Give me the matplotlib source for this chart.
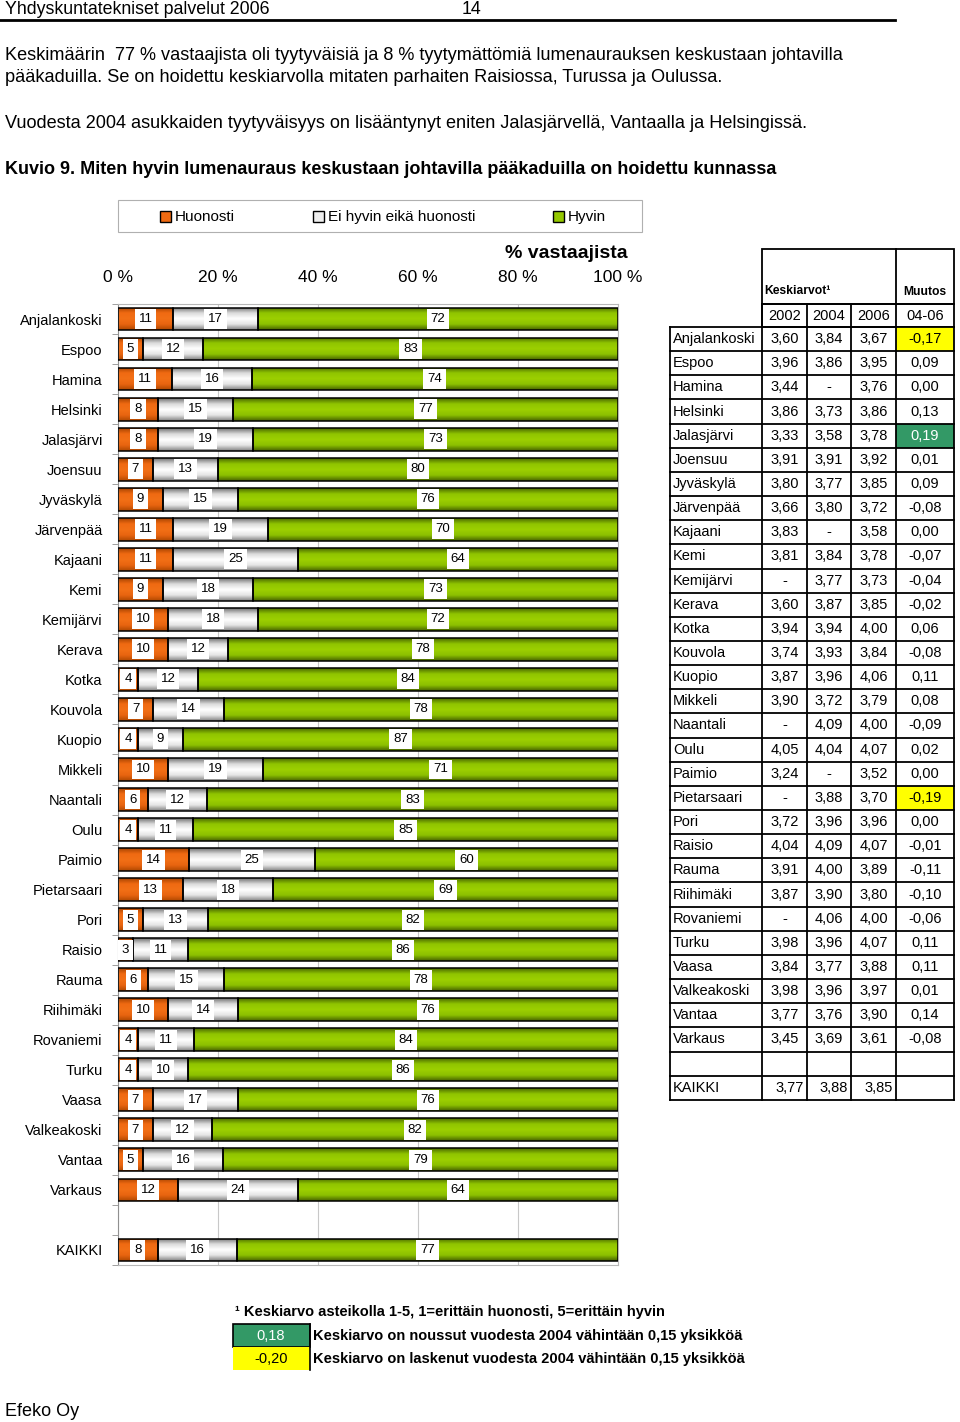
import numpy as np
import matplotlib
matplotlib.use("Agg")
from matplotlib import pyplot as plt
from matplotlib.colors import LinearSegmentedColormap
from matplotlib.patches import Rectangle

plt.rcParams['font.family'] = ['Liberation Sans', 'DejaVu Sans']
NARROW = ['Liberation Sans Narrow', 'Liberation Sans', 'DejaVu Sans']

# --- data ---
cities = ["Anjalankoski", "Espoo", "Hamina", "Helsinki", "Jalasjärvi", "Joensuu",
          "Jyväskylä", "Järvenpää", "Kajaani", "Kemi", "Kemijärvi", "Kerava", "Kotka",
          "Kouvola", "Kuopio", "Mikkeli", "Naantali", "Oulu", "Paimio", "Pietarsaari",
          "Pori", "Raisio", "Rauma", "Riihimäki", "Rovaniemi", "Turku", "Vaasa",
          "Valkeakoski", "Vantaa", "Varkaus"]
huonosti = [11, 5, 11, 8, 8, 7, 9, 11, 11, 9, 10, 10, 4, 7, 4, 10, 6, 4, 14, 13,
            5, 3, 6, 10, 4, 4, 7, 7, 5, 12]
ei_hyvin = [17, 12, 16, 15, 19, 13, 15, 19, 25, 18, 18, 12, 12, 14, 9, 19, 12, 11, 25, 18,
            13, 11, 15, 14, 11, 10, 17, 12, 16, 24]
hyvin = [72, 83, 74, 77, 73, 80, 76, 70, 64, 73, 72, 78, 84, 78, 87, 71, 83, 85, 60, 69,
         82, 86, 78, 76, 84, 86, 76, 82, 79, 64]
kaikki = [8, 16, 77]

k2002 = [3.60, 3.96, 3.44, 3.86, 3.33, 3.91, 3.80, 3.66, 3.83, 3.81, None, 3.60, 3.94,
         3.74, 3.87, 3.90, None, 4.05, 3.24, None, 3.72, 4.04, 3.91, 3.87, None, 3.98,
         3.84, 3.98, 3.77, 3.45]
k2004 = [3.84, 3.86, None, 3.73, 3.58, 3.91, 3.77, 3.80, None, 3.84, 3.77, 3.87, 3.94,
         3.93, 3.96, 3.72, 4.09, 4.04, None, 3.88, 3.96, 4.09, 4.00, 3.90, 4.06, 3.96,
         3.77, 3.96, 3.76, 3.69]
k2006 = [3.67, 3.95, 3.76, 3.86, 3.78, 3.92, 3.85, 3.72, 3.58, 3.78, 3.73, 3.85, 4.00,
         3.84, 4.06, 3.79, 4.00, 4.07, 3.52, 3.70, 3.96, 4.07, 3.89, 3.80, 4.00, 4.07,
         3.88, 3.97, 3.90, 3.61]
muutos = [-0.17, 0.09, 0.00, 0.13, 0.19, 0.01, 0.09, -0.08, 0.00, -0.07, -0.04, -0.02,
          0.06, -0.08, 0.11, 0.08, -0.09, 0.02, 0.00, -0.19, 0.00, -0.01, -0.11, -0.10,
          -0.06, 0.11, 0.11, 0.01, 0.14, -0.08]
kaikki_k = [3.77, 3.88, 3.85]
years = ["2002", "2004", "2006", "04-06"]
xticklabels = ["0 %", "20 %", "40 %", "60 %", "80 %", "100 %"]
legend_labels = ["Huonosti", "Ei hyvin eikä huonosti", "Hyvin"]

ORANGE, WHITE, GREEN = '#f06a12', '#eeeeee', '#94c800'
YEL, SEA = '#ffff00', '#339966'


def fmt(v):
    return '-' if v is None else f"{v:.2f}".replace('.', ',')


W, H = 960, 1422
fig = plt.figure(figsize=(W / 100, H / 100), dpi=100)
ax0 = fig.add_axes([0, 0, 1, 1])
ax0.set_xlim(0, W)
ax0.set_ylim(H, 0)
ax0.axis('off')

# header and text
ax0.text(5, 10, "Yhdyskuntatekniset palvelut 2006", family=NARROW, fontsize=12.8, va='center')
ax0.text(462, 10, "14", family=NARROW, fontsize=12.8, va='center')
ax0.plot([0, 895], [20, 20], color='black', lw=2)
ax0.text(5, 55, "Keskimäärin  77 % vastaajista oli tyytyväisiä ja 8 % tyytymättömiä lumenaurauksen keskustaan johtavilla",
         family=NARROW, fontsize=13.1, va='center')
ax0.text(5, 77, "pääkaduilla. Se on hoidettu keskiarvolla mitaten parhaiten Raisiossa, Turussa ja Oulussa.",
         family=NARROW, fontsize=13.1, va='center')
ax0.text(5, 124, "Vuodesta 2004 asukkaiden tyytyväisyys on lisääntynyt eniten Jalasjärvellä, Vantaalla ja Helsingissä.",
         family=NARROW, fontsize=13.1, va='center')
ax0.text(5, 169, "Kuvio 9. Miten hyvin lumenauraus keskustaan johtavilla pääkaduilla on hoidettu kunnassa",
         family=NARROW, fontsize=13, va='center', fontweight='bold')

# legend
ax0.add_patch(Rectangle((118, 200), 524, 32, fill=False, edgecolor='#b0b0b0', lw=0.8))
for xs, lab, col in zip([160, 313, 553], legend_labels, [ORANGE, WHITE, GREEN]):
    ax0.add_patch(Rectangle((xs, 211), 11, 11, facecolor=col, edgecolor='black', lw=1))
    ax0.text(xs + 15, 217, lab, family=NARROW, fontsize=11, va='center')

ax0.text(628, 254, "% vastaajista", fontsize=14, fontweight='bold', ha='right', va='center')

# --- bar chart ---
ax = fig.add_axes([118 / W, 1 - 1265 / H, 500 / W, (1265 - 304) / H])
rows = list(range(len(cities))) + [len(cities) + 1]
data = np.array([list(t) for t in zip(huonosti, ei_hyvin, hyvin)] + [kaikki], dtype=float)
pct = data / data.sum(axis=1, keepdims=True) * 100
lefts = np.cumsum(pct, axis=1) - pct

cmaps = [
    LinearSegmentedColormap.from_list('o', ['#a84400', '#f06a12', '#f27016', '#e86410', '#b04800']),
    LinearSegmentedColormap.from_list('w', ['#707070', '#dadada', '#ffffff', '#e4e4e4', '#808080']),
    LinearSegmentedColormap.from_list('g', ['#4a6800', '#90c400', '#9ccf00', '#8cc000', '#466200']),
]
grad = np.linspace(0, 1, 64).reshape(-1, 1)
bh = 0.76
for j in range(3):
    bars = ax.barh(rows, pct[:, j], left=lefts[:, j], height=bh, facecolor='none',
                   edgecolor='black', lw=1.1, zorder=3)
    for rect in bars:
        x0, y0 = rect.get_x(), rect.get_y()
        im = ax.imshow(grad, cmap=cmaps[j], extent=[x0, x0 + rect.get_width(), y0 + bh, y0],
                       aspect='auto', zorder=2, interpolation='bilinear')
        im.set_clip_path(rect)
    for r, v, l, w in zip(rows, data[:, j], lefts[:, j], pct[:, j]):
        ax.text(l + w / 2, r, f"{int(v)}", ha='center', va='center', fontsize=9.5, zorder=4,
                bbox=dict(boxstyle='square,pad=0.3', facecolor='white', edgecolor='none'))

ax.set_xlim(0, 100)
ax.set_ylim(len(cities) + 1.5, -0.5)
ax.set_aspect('auto')
ax.xaxis.tick_top()
ax.set_xticks(np.arange(0, 101, 20))
ax.set_xticklabels(xticklabels, fontsize=12.5)
ax.tick_params(axis='x', length=0, pad=14)
ax.set_yticks(rows)
ax.set_yticklabels(cities + ["KAIKKI"], fontsize=10.5)
ax.tick_params(axis='y', length=0, pad=11)
ax.set_yticks(np.arange(-0.5, len(cities) + 2, 1), minor=True)
ax.tick_params(axis='y', which='minor', length=4, color='#909090')
ax.grid(axis='x', color='#c8c8c8', lw=0.8, zorder=0)
ax.set_axisbelow(True)
for s in ['top', 'right', 'bottom']:
    ax.spines[s].set_color('#b8b8b8')
ax.spines['left'].set_color('#909090')

# --- table ---
cx = [670, 762, 807, 851, 896, 954]
rh = 24.15
ty0 = 327
lw = 1.3
# header boxes
ax0.add_patch(Rectangle((cx[1], 249), cx[5] - cx[1], 304 - 249, fill=False, edgecolor='black', lw=lw))
ax0.plot([cx[4], cx[4]], [249, 304], color='black', lw=lw)
ax0.text(cx[1] + 2, 291, "Keskiarvot¹", family=NARROW, fontsize=8.7, fontweight='bold', va='center')
ax0.text((cx[4] + cx[5]) / 2, 292, "Muutos", family=NARROW, fontsize=8.7, fontweight='bold',
         va='center', ha='center')
ax0.add_patch(Rectangle((cx[1], 304), cx[5] - cx[1], ty0 - 304, fill=False, edgecolor='black', lw=lw))
for i, yl in enumerate(years):
    ax0.plot([cx[i + 1], cx[i + 1]], [304, ty0], color='black', lw=lw)
    ax0.text((cx[i + 1] + cx[i + 2]) / 2, (304 + ty0) / 2, yl, fontsize=10.5, ha='center', va='center')

nrows = len(cities) + 2
for i in range(len(cities)):
    yc = ty0 + (i + 0.5) * rh
    ch = muutos[i]
    if ch >= 0.15:
        ax0.add_patch(Rectangle((cx[4], ty0 + i * rh), cx[5] - cx[4], rh, facecolor=SEA, edgecolor='none'))
    elif ch <= -0.15:
        ax0.add_patch(Rectangle((cx[4], ty0 + i * rh), cx[5] - cx[4], rh, facecolor=YEL, edgecolor='none'))
    ax0.text(cx[0] + 3, yc, cities[i], fontsize=10.5, va='center')
    for c, v in enumerate([k2002[i], k2004[i], k2006[i]]):
        ax0.text((cx[c + 1] + cx[c + 2]) / 2, yc, fmt(v), fontsize=10.5, ha='center', va='center')
    ax0.text((cx[4] + cx[5]) / 2, yc, fmt(ch), fontsize=10.5, ha='center', va='center',
             color='white' if ch >= 0.15 else 'black')
yc = ty0 + (nrows - 0.5) * rh
ax0.text(cx[0] + 3, yc, "KAIKKI", fontsize=10.5, va='center')
for c, v in enumerate(kaikki_k):
    ax0.text(cx[c + 2] - 3, yc, fmt(v), fontsize=10.5, ha='right', va='center')
for i in range(nrows + 1):
    ax0.plot([cx[0], cx[5]], [ty0 + i * rh] * 2, color='black', lw=lw)
for x in cx:
    ax0.plot([x, x], [ty0, ty0 + nrows * rh], color='black', lw=lw)

# footnote
ax0.text(235, 1312, "¹ Keskiarvo asteikolla 1-5, 1=erittäin huonosti, 5=erittäin hyvin",
         fontsize=10.5, fontweight='bold', va='center')
ax0.add_patch(Rectangle((233, 1324), 77, 23, facecolor=SEA, edgecolor='black', lw=1.2))
ax0.add_patch(Rectangle((233, 1347), 77, 23, facecolor=YEL, edgecolor='none'))
ax0.plot([310, 310], [1324, 1370], color='black', lw=1.2)
ax0.text(271, 1336, "0,18", color='white', fontsize=10.5, ha='center', va='center')
ax0.text(271, 1359, "-0,20", color='black', fontsize=10.5, ha='center', va='center')
ax0.text(313, 1336, "Keskiarvo on noussut vuodesta 2004 vähintään 0,15 yksikköä",
         fontsize=10.5, fontweight='bold', va='center')
ax0.text(313, 1359, "Keskiarvo on laskenut vuodesta 2004 vähintään 0,15 yksikköä",
         fontsize=10.5, fontweight='bold', va='center')

ax0.text(5, 1411, "Efeko Oy", fontsize=13, va='center')

fig.savefig("out.png", dpi=100)
